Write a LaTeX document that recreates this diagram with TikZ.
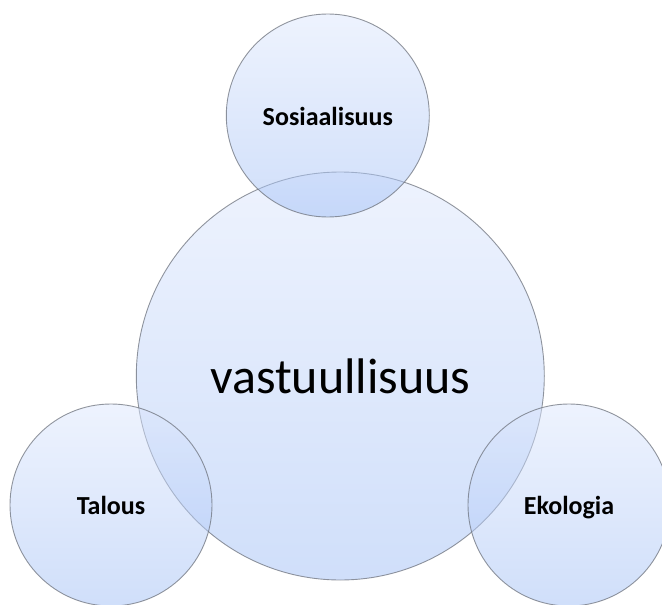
\documentclass[tikz,border=0pt]{standalone}
\usepackage{fontspec}
\setmainfont{Carlito}
\definecolor{ctop}{RGB}{221,231,253}
\definecolor{cbot}{RGB}{161,191,245}
\definecolor{cedge}{RGB}{110,115,125}
\tikzset{
  bubble/.style={circle, inner sep=0pt, top color=ctop, bottom color=cbot,
    fill opacity=0.5, text opacity=1, draw=cedge, draw opacity=0.75, line width=0.9pt},
  smalllabel/.style={font=\fontsize{26}{30}\selectfont\bfseries, text height=19pt, text depth=0pt},
  biglabel/.style={font=\fontsize{50}{60}\selectfont}
}
\begin{document}
\begin{tikzpicture}[x=1pt,y=-1pt]
\useasboundingbox (0,0) rectangle (662,605);
\clip (0,0) rectangle (662,605);
\node[bubble, minimum size=408pt, biglabel] (vast) at (340.3,376) {vastuullisuus};
\node[bubble, minimum size=203pt, smalllabel] (sos) at (327.8,115.5) {Sosiaalisuus};
\node[bubble, minimum size=202pt, smalllabel] (tal) at (111,505) {Talous};
\node[bubble, minimum size=202pt, smalllabel] (eko) at (569,505) {Ekologia};
\end{tikzpicture}
\end{document}
